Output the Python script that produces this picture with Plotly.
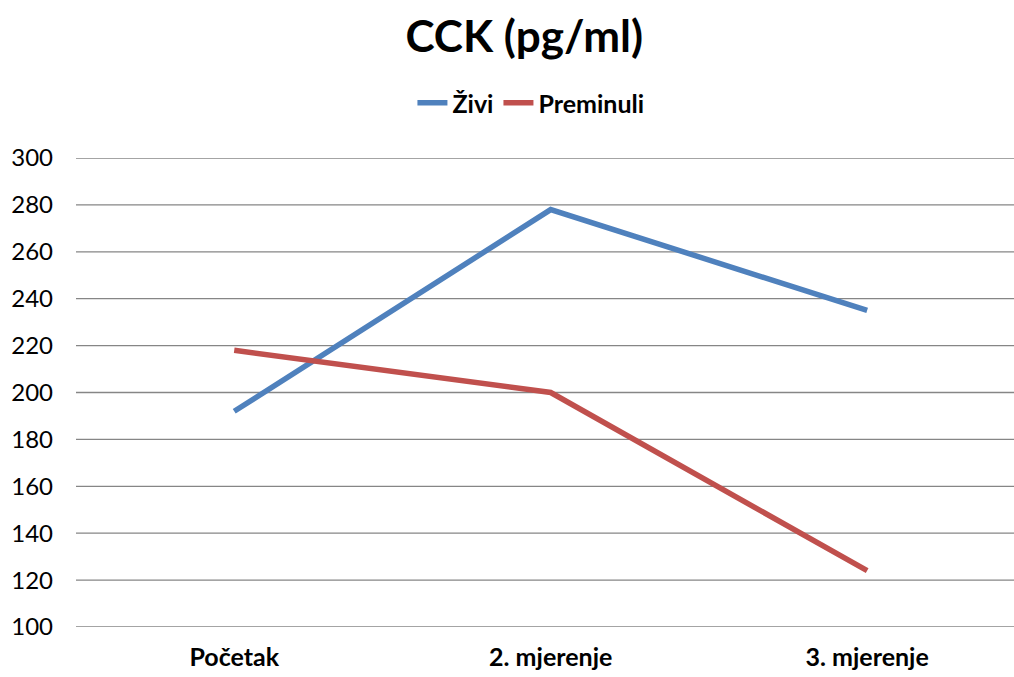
import plotly.graph_objects as go

# Measurement points and CCK concentrations (pg/ml)
categories = ["Početak", "2. mjerenje", "3. mjerenje"]
zivi = [192, 278, 235]
preminuli = [218, 200, 124]
y_ticks = [100, 120, 140, 160, 180, 200, 220, 240, 260, 280, 300]

FONT = "Lato"
GRID = "#868686"

fig = go.Figure()
fig.add_trace(go.Scatter(
    x=categories, y=zivi, mode="lines", name="<b>Živi</b>",
    line=dict(color="#4F81BD", width=5.5),
))
fig.add_trace(go.Scatter(
    x=categories, y=preminuli, mode="lines", name="<b>Preminuli</b>",
    line=dict(color="#C0504D", width=5.5),
))

# horizontal gridlines spanning the full plot width
for v in y_ticks:
    fig.add_shape(
        type="line", xref="paper", x0=0, x1=1, yref="y", y0=v, y1=v,
        line=dict(color=GRID, width=1.3), layer="below",
    )

fig.update_layout(
    width=1014, height=677,
    margin=dict(l=76, r=0, t=158, b=50, pad=0),
    paper_bgcolor="white", plot_bgcolor="white",
    font=dict(family=FONT, color="black"),
    title=dict(
        text="<b>CCK (pg/ml)</b>", x=0.517, xanchor="center",
        y=1 - 37 / 677, yref="container", yanchor="middle",
        font=dict(family=FONT, size=44, color="black"),
    ),
    legend=dict(
        orientation="h", x=0.485, xanchor="center",
        y=1 - 103 / 677, yref="container", yanchor="middle",
        font=dict(family=FONT, size=25, color="black"),
    ),
    showlegend=True,
)

fig.update_xaxes(
    type="category", range=[-0.5, 2.464],
    showgrid=False, zeroline=False, automargin=False, showline=False,
    tickfont=dict(family=FONT, size=25, color="black"),
    tickvals=categories,
    ticktext=[f"<b>{c}</b>" for c in categories],
    ticklabelstandoff=13,
)
fig.update_yaxes(
    range=[100, 300],
    tickvals=y_ticks, automargin=False,
    showgrid=False, zeroline=False, showline=False,
    tickfont=dict(family=FONT, size=24, color="black"),
    ticklabelstandoff=22,
)

fig.write_html("out.html", config={"displayModeBar": False})
